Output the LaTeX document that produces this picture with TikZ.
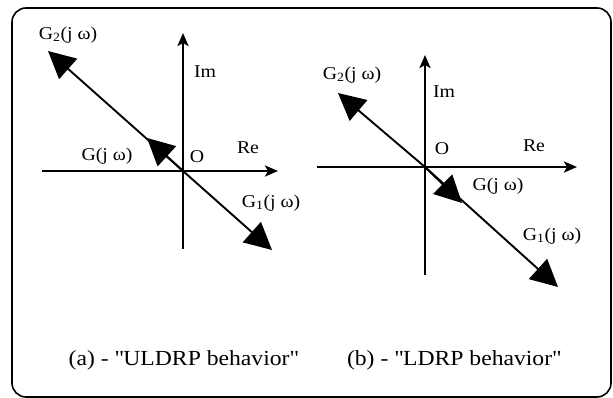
\documentclass[tikz,border=0pt]{standalone}
\usepackage{fontspec}
\setmainfont[FakeStretch=1.1]{Liberation Serif}
\usetikzlibrary{arrows.meta}
\begin{document}
\begin{tikzpicture}[x=1pt,y=-1pt,
  axis/.style={line width=2.8pt,-{Stealth[length=13pt,width=11pt,inset=3pt]}},
  vec/.style={line width=1.9pt,-{Triangle[length=27pt,width=27pt]}},
  lbl/.style={font=\fontsize{18}{18}\selectfont,inner sep=0pt},
  captext/.style={font=\fontsize{21.5}{21.5}\selectfont,inner sep=0pt}]
\useasboundingbox (0,0) rectangle (613,398);
\draw[line width=1.6pt,rounded corners=14pt] (12,8) rectangle (611,397);
% ---- (a)
\coordinate (Oa) at (183,171);
\coordinate (ReL) at (42,171);
\coordinate (ReR) at (278,171);
\coordinate (ImB) at (183,249);
\coordinate (ImT) at (183,33);
\coordinate (G2a) at (48,51);
\coordinate (G1a) at (272,250);
\coordinate (Ga) at (147,138);
\draw[axis] (ReL) -- (ReR);
\draw[axis] (ImB) -- (ImT);
\draw[vec] (Oa) -- (G2a);
\draw[vec] (Oa) -- (G1a);
\draw[vec] (Oa) -- (Ga);
\node[lbl] (la2) at (68,35) {G\textsubscript{2}(j ω)};
\node[lbl] (laim) at (205,72) {Im};
\node[lbl] (lag) at (107,156) {G(j ω)};
\node[lbl] (lao) at (197,157) {O};
\node[lbl] (lare) at (248,148) {Re};
\node[lbl] (la1) at (271,203) {G\textsubscript{1}(j ω)};
% ---- (b)
\coordinate (Ob) at (425,167);
\coordinate (ReLb) at (317,167);
\coordinate (ReRb) at (577,167);
\coordinate (ImBb) at (425,275);
\coordinate (ImTb) at (425,55);
\coordinate (G2b) at (338,93);
\coordinate (G1b) at (558,287);
\coordinate (Gb) at (462,203);
\draw[axis] (ReLb) -- (ReRb);
\draw[axis] (ImBb) -- (ImTb);
\draw[vec] (Ob) -- (G2b);
\draw[vec] (Ob) -- (G1b);
\draw[vec] (Ob) -- (Gb);
\node[lbl] (lb2) at (352,75) {G\textsubscript{2}(j ω)};
\node[lbl] (lbim) at (444,92) {Im};
\node[lbl] (lbo) at (442,149) {O};
\node[lbl] (lbre) at (534,146) {Re};
\node[lbl] (lbg) at (498,186) {G(j ω)};
\node[lbl] (lb1) at (552,236) {G\textsubscript{1}(j ω)};
% ---- captions
\node[captext] (capa) at (183.5,360) {(a) - \textquotedbl ULDRP behavior\textquotedbl};
\node[captext] (capb) at (454,360) {(b) - \textquotedbl LDRP behavior\textquotedbl};
\end{tikzpicture}
\end{document}
